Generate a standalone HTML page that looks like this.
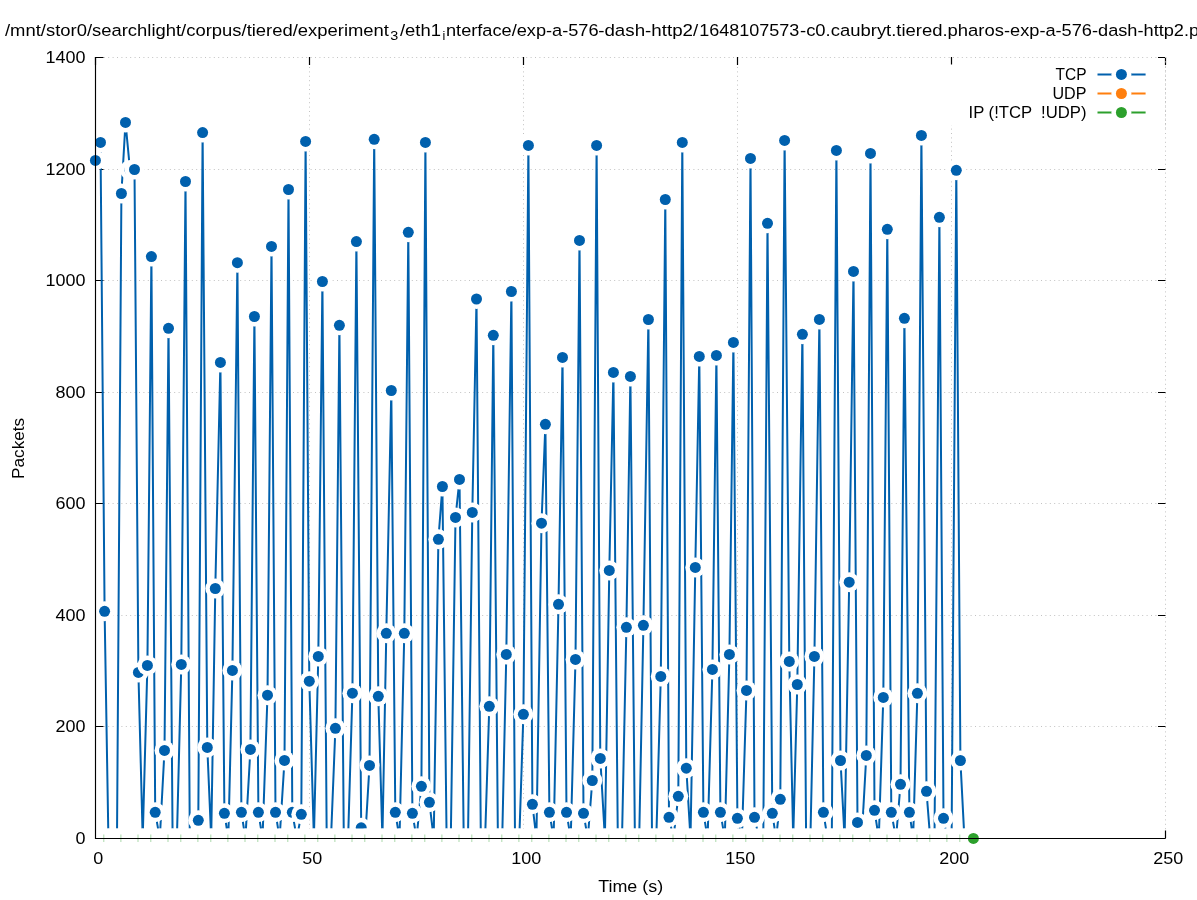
<!DOCTYPE html>
<html><head><meta charset="utf-8"><title>plot</title>
<style>html,body{margin:0;padding:0;background:#fff;overflow:hidden}svg{display:block}text{font-family:"Liberation Sans",sans-serif;fill:#000}</style></head><body>
<svg width="1197" height="900" viewBox="0 0 1197 900">
<defs><filter id="gs" x="0" y="0" width="1197" height="900" filterUnits="userSpaceOnUse" color-interpolation-filters="sRGB"><feColorMatrix type="saturate" values="0"/></filter><clipPath id="cp"><rect x="95" y="57" width="1071" height="781.5"/></clipPath></defs><rect width="1197" height="900" fill="#fff"/>
<g stroke="#c2c2c2" stroke-width="1" stroke-dasharray="1 3.4" fill="none">
<path d="M309.5 838V57"/>
<path d="M523.5 838V57"/>
<path d="M737.5 838V57"/>
<path d="M951.5 838V57"/>
<path d="M1165.5 838V57"/>
<path d="M95 57.5H1165"/>
<path d="M95 169.5H1165"/>
<path d="M95 280.5H1165"/>
<path d="M95 392.5H1165"/>
<path d="M95 503.5H1165"/>
<path d="M95 615.5H1165"/>
<path d="M95 726.5H1165"/>
</g>
<g stroke="#000" stroke-width="1.2" fill="none">
<path d="M95.5 838V830.5M95.5 57V65"/>
<path d="M309.5 838V830.5M309.5 57V65"/>
<path d="M523.5 838V830.5M523.5 57V65"/>
<path d="M737.5 838V830.5M737.5 57V65"/>
<path d="M951.5 838V830.5M951.5 57V65"/>
<path d="M1165.5 838V830.5M1165.5 57V65"/>
<path d="M95 57.5H103.5M1165.5 57.5H1158"/>
<path d="M95 169.5H103.5M1165.5 169.5H1158"/>
<path d="M95 280.5H103.5M1165.5 280.5H1158"/>
<path d="M95 392.5H103.5M1165.5 392.5H1158"/>
<path d="M95 503.5H103.5M1165.5 503.5H1158"/>
<path d="M95 615.5H103.5M1165.5 615.5H1158"/>
<path d="M95 726.5H103.5M1165.5 726.5H1158"/>
<path d="M95 838.5H103.5M1165.5 838.5H1158"/>
</g>
<path d="M95.4 160.4 L100.5 142.4 L104.6 611.3 L108.4 838.4 L112.7 838.4 L117.0 838.4 L121.4 193.5 L125.5 122.4 L130.0 169.9 L134.5 169.5 L138.4 672.4 L142.7 838.4 L147.4 665.4 L151.4 256.6 L155.2 812.3 L159.8 838.4 L164.5 750.4 L168.5 328.3 L172.6 838.4 L176.9 838.4 L181.3 664.4 L185.5 181.5 L189.8 838.4 L194.0 838.4 L198.3 820.3 L202.6 132.6 L207.3 747.4 L211.2 838.4 L215.3 588.5 L220.4 362.4 L224.4 813.3 L228.3 838.4 L232.4 670.4 L237.4 262.7 L241.4 812.3 L245.4 838.4 L250.4 749.4 L254.4 316.5 L258.4 812.3 L262.5 838.4 L267.5 695.2 L271.5 246.4 L275.5 812.3 L279.6 838.4 L284.5 760.4 L288.5 189.5 L292.3 812.3 L296.8 838.4 L301.3 814.3 L305.6 141.4 L309.3 681.2 L313.9 838.4 L318.3 656.4 L322.4 281.5 L326.7 838.4 L331.0 838.4 L335.4 728.3 L339.4 325.3 L343.8 838.4 L348.1 838.4 L352.4 693.2 L356.4 241.6 L361.2 827.8 L365.2 838.4 L369.5 765.4 L374.2 139.3 L378.3 696.3 L382.4 838.4 L386.3 633.3 L391.3 390.5 L395.3 812.3 L399.5 838.4 L404.3 633.3 L408.3 232.3 L412.4 813.3 L416.6 838.4 L421.4 786.3 L425.4 142.4 L429.4 802.3 L433.7 838.4 L438.4 539.3 L442.4 486.5 L446.6 838.4 L450.8 838.4 L455.5 517.4 L459.5 479.4 L463.7 838.4 L468.0 838.4 L472.3 512.4 L476.5 299.0 L480.8 838.4 L485.1 838.4 L489.3 706.3 L493.3 335.3 L497.9 838.4 L502.2 838.4 L506.3 654.4 L511.4 291.5 L515.0 838.4 L519.3 838.4 L523.4 714.3 L528.4 145.4 L532.4 804.3 L536.4 838.4 L541.5 523.2 L545.4 424.3 L549.4 812.3 L553.6 838.4 L558.5 604.3 L562.5 357.4 L566.5 812.3 L570.7 838.4 L575.5 659.4 L579.5 240.4 L583.5 813.3 L587.8 838.4 L592.3 780.5 L596.6 145.4 L600.3 758.4 L604.9 838.4 L609.3 570.4 L613.4 372.4 L617.8 838.4 L622.0 838.4 L626.4 627.3 L630.4 376.4 L634.9 838.4 L639.2 838.4 L643.4 625.3 L648.4 319.5 L652.0 838.4 L656.3 838.4 L660.8 676.4 L665.3 199.5 L669.0 817.3 L673.4 838.4 L678.3 796.3 L682.3 142.4 L686.3 768.2 L690.5 838.4 L695.3 567.4 L699.3 356.4 L703.4 812.3 L707.6 838.4 L712.4 669.4 L716.4 355.4 L720.4 812.3 L724.8 838.4 L729.4 654.4 L733.4 342.4 L737.4 818.3 L741.9 838.4 L746.5 690.4 L750.5 158.4 L754.5 817.3 L759.0 838.4 L763.3 838.4 L767.5 223.3 L772.3 813.3 L776.1 838.4 L780.3 799.3 L784.6 140.4 L789.3 661.4 L793.2 838.4 L797.3 684.5 L802.4 334.3 L806.1 838.4 L810.4 838.4 L814.4 656.4 L819.4 319.4 L823.4 812.3 L827.5 838.4 L831.8 838.4 L836.4 150.4 L840.5 760.5 L844.6 838.4 L849.2 582.2 L853.5 271.4 L857.5 822.4 L861.7 838.4 L866.3 755.4 L870.5 153.4 L874.5 810.3 L878.8 838.4 L883.3 697.4 L887.3 229.3 L891.3 812.3 L896.0 838.4 L900.5 784.3 L904.4 318.3 L909.4 812.3 L913.1 838.4 L917.4 693.3 L921.4 135.4 L926.5 791.3 L930.2 838.4 L934.5 838.4 L939.4 217.3 L943.5 818.3 L947.3 838.4 L951.6 838.4 L956.3 170.3 L960.4 760.5 L964.4 838.4 L968.7 838.4 L973.0 838.4" fill="none" stroke="#0060ad" stroke-width="2" stroke-linejoin="round" clip-path="url(#cp)"/>
<circle cx="95.4" cy="160.4" r="10.0" fill="#fff"/><circle cx="95.4" cy="160.4" r="5.5" fill="#0060ad"/>
<circle cx="100.5" cy="142.4" r="10.0" fill="#fff"/><circle cx="100.5" cy="142.4" r="5.5" fill="#0060ad"/>
<circle cx="104.6" cy="611.3" r="10.0" fill="#fff"/><circle cx="104.6" cy="611.3" r="5.5" fill="#0060ad"/>
<circle cx="108.4" cy="838.4" r="10.0" fill="#fff"/>
<circle cx="112.7" cy="838.4" r="10.0" fill="#fff"/>
<circle cx="117.0" cy="838.4" r="10.0" fill="#fff"/>
<circle cx="121.4" cy="193.5" r="10.0" fill="#fff"/><circle cx="121.4" cy="193.5" r="5.5" fill="#0060ad"/>
<circle cx="125.5" cy="122.4" r="10.0" fill="#fff"/><circle cx="125.5" cy="122.4" r="5.5" fill="#0060ad"/>
<circle cx="130.0" cy="169.9" r="10.0" fill="#fff"/><circle cx="130.0" cy="169.9" r="5.5" fill="#0060ad"/>
<circle cx="134.5" cy="169.5" r="10.0" fill="#fff"/><circle cx="134.5" cy="169.5" r="5.5" fill="#0060ad"/>
<circle cx="138.4" cy="672.4" r="10.0" fill="#fff"/><circle cx="138.4" cy="672.4" r="5.5" fill="#0060ad"/>
<circle cx="142.7" cy="838.4" r="10.0" fill="#fff"/>
<circle cx="147.4" cy="665.4" r="10.0" fill="#fff"/><circle cx="147.4" cy="665.4" r="5.5" fill="#0060ad"/>
<circle cx="151.4" cy="256.6" r="10.0" fill="#fff"/><circle cx="151.4" cy="256.6" r="5.5" fill="#0060ad"/>
<circle cx="155.2" cy="812.3" r="10.0" fill="#fff"/><circle cx="155.2" cy="812.3" r="5.5" fill="#0060ad"/>
<circle cx="159.8" cy="838.4" r="10.0" fill="#fff"/>
<circle cx="164.5" cy="750.4" r="10.0" fill="#fff"/><circle cx="164.5" cy="750.4" r="5.5" fill="#0060ad"/>
<circle cx="168.5" cy="328.3" r="10.0" fill="#fff"/><circle cx="168.5" cy="328.3" r="5.5" fill="#0060ad"/>
<circle cx="172.6" cy="838.4" r="10.0" fill="#fff"/>
<circle cx="176.9" cy="838.4" r="10.0" fill="#fff"/>
<circle cx="181.3" cy="664.4" r="10.0" fill="#fff"/><circle cx="181.3" cy="664.4" r="5.5" fill="#0060ad"/>
<circle cx="185.5" cy="181.5" r="10.0" fill="#fff"/><circle cx="185.5" cy="181.5" r="5.5" fill="#0060ad"/>
<circle cx="189.8" cy="838.4" r="10.0" fill="#fff"/>
<circle cx="194.0" cy="838.4" r="10.0" fill="#fff"/>
<circle cx="198.3" cy="820.3" r="10.0" fill="#fff"/><circle cx="198.3" cy="820.3" r="5.5" fill="#0060ad"/>
<circle cx="202.6" cy="132.6" r="10.0" fill="#fff"/><circle cx="202.6" cy="132.6" r="5.5" fill="#0060ad"/>
<circle cx="207.3" cy="747.4" r="10.0" fill="#fff"/><circle cx="207.3" cy="747.4" r="5.5" fill="#0060ad"/>
<circle cx="211.2" cy="838.4" r="10.0" fill="#fff"/>
<circle cx="215.3" cy="588.5" r="10.0" fill="#fff"/><circle cx="215.3" cy="588.5" r="5.5" fill="#0060ad"/>
<circle cx="220.4" cy="362.4" r="10.0" fill="#fff"/><circle cx="220.4" cy="362.4" r="5.5" fill="#0060ad"/>
<circle cx="224.4" cy="813.3" r="10.0" fill="#fff"/><circle cx="224.4" cy="813.3" r="5.5" fill="#0060ad"/>
<circle cx="228.3" cy="838.4" r="10.0" fill="#fff"/>
<circle cx="232.4" cy="670.4" r="10.0" fill="#fff"/><circle cx="232.4" cy="670.4" r="5.5" fill="#0060ad"/>
<circle cx="237.4" cy="262.7" r="10.0" fill="#fff"/><circle cx="237.4" cy="262.7" r="5.5" fill="#0060ad"/>
<circle cx="241.4" cy="812.3" r="10.0" fill="#fff"/><circle cx="241.4" cy="812.3" r="5.5" fill="#0060ad"/>
<circle cx="245.4" cy="838.4" r="10.0" fill="#fff"/>
<circle cx="250.4" cy="749.4" r="10.0" fill="#fff"/><circle cx="250.4" cy="749.4" r="5.5" fill="#0060ad"/>
<circle cx="254.4" cy="316.5" r="10.0" fill="#fff"/><circle cx="254.4" cy="316.5" r="5.5" fill="#0060ad"/>
<circle cx="258.4" cy="812.3" r="10.0" fill="#fff"/><circle cx="258.4" cy="812.3" r="5.5" fill="#0060ad"/>
<circle cx="262.5" cy="838.4" r="10.0" fill="#fff"/>
<circle cx="267.5" cy="695.2" r="10.0" fill="#fff"/><circle cx="267.5" cy="695.2" r="5.5" fill="#0060ad"/>
<circle cx="271.5" cy="246.4" r="10.0" fill="#fff"/><circle cx="271.5" cy="246.4" r="5.5" fill="#0060ad"/>
<circle cx="275.5" cy="812.3" r="10.0" fill="#fff"/><circle cx="275.5" cy="812.3" r="5.5" fill="#0060ad"/>
<circle cx="279.6" cy="838.4" r="10.0" fill="#fff"/>
<circle cx="284.5" cy="760.4" r="10.0" fill="#fff"/><circle cx="284.5" cy="760.4" r="5.5" fill="#0060ad"/>
<circle cx="288.5" cy="189.5" r="10.0" fill="#fff"/><circle cx="288.5" cy="189.5" r="5.5" fill="#0060ad"/>
<circle cx="292.3" cy="812.3" r="10.0" fill="#fff"/><circle cx="292.3" cy="812.3" r="5.5" fill="#0060ad"/>
<circle cx="296.8" cy="838.4" r="10.0" fill="#fff"/>
<circle cx="301.3" cy="814.3" r="10.0" fill="#fff"/><circle cx="301.3" cy="814.3" r="5.5" fill="#0060ad"/>
<circle cx="305.6" cy="141.4" r="10.0" fill="#fff"/><circle cx="305.6" cy="141.4" r="5.5" fill="#0060ad"/>
<circle cx="309.3" cy="681.2" r="10.0" fill="#fff"/><circle cx="309.3" cy="681.2" r="5.5" fill="#0060ad"/>
<circle cx="313.9" cy="838.4" r="10.0" fill="#fff"/>
<circle cx="318.3" cy="656.4" r="10.0" fill="#fff"/><circle cx="318.3" cy="656.4" r="5.5" fill="#0060ad"/>
<circle cx="322.4" cy="281.5" r="10.0" fill="#fff"/><circle cx="322.4" cy="281.5" r="5.5" fill="#0060ad"/>
<circle cx="326.7" cy="838.4" r="10.0" fill="#fff"/>
<circle cx="331.0" cy="838.4" r="10.0" fill="#fff"/>
<circle cx="335.4" cy="728.3" r="10.0" fill="#fff"/><circle cx="335.4" cy="728.3" r="5.5" fill="#0060ad"/>
<circle cx="339.4" cy="325.3" r="10.0" fill="#fff"/><circle cx="339.4" cy="325.3" r="5.5" fill="#0060ad"/>
<circle cx="343.8" cy="838.4" r="10.0" fill="#fff"/>
<circle cx="348.1" cy="838.4" r="10.0" fill="#fff"/>
<circle cx="352.4" cy="693.2" r="10.0" fill="#fff"/><circle cx="352.4" cy="693.2" r="5.5" fill="#0060ad"/>
<circle cx="356.4" cy="241.6" r="10.0" fill="#fff"/><circle cx="356.4" cy="241.6" r="5.5" fill="#0060ad"/>
<circle cx="361.2" cy="827.8" r="10.0" fill="#fff"/><circle cx="361.2" cy="827.8" r="5.5" fill="#0060ad"/>
<circle cx="365.2" cy="838.4" r="10.0" fill="#fff"/>
<circle cx="369.5" cy="765.4" r="10.0" fill="#fff"/><circle cx="369.5" cy="765.4" r="5.5" fill="#0060ad"/>
<circle cx="374.2" cy="139.3" r="10.0" fill="#fff"/><circle cx="374.2" cy="139.3" r="5.5" fill="#0060ad"/>
<circle cx="378.3" cy="696.3" r="10.0" fill="#fff"/><circle cx="378.3" cy="696.3" r="5.5" fill="#0060ad"/>
<circle cx="382.4" cy="838.4" r="10.0" fill="#fff"/>
<circle cx="386.3" cy="633.3" r="10.0" fill="#fff"/><circle cx="386.3" cy="633.3" r="5.5" fill="#0060ad"/>
<circle cx="391.3" cy="390.5" r="10.0" fill="#fff"/><circle cx="391.3" cy="390.5" r="5.5" fill="#0060ad"/>
<circle cx="395.3" cy="812.3" r="10.0" fill="#fff"/><circle cx="395.3" cy="812.3" r="5.5" fill="#0060ad"/>
<circle cx="399.5" cy="838.4" r="10.0" fill="#fff"/>
<circle cx="404.3" cy="633.3" r="10.0" fill="#fff"/><circle cx="404.3" cy="633.3" r="5.5" fill="#0060ad"/>
<circle cx="408.3" cy="232.3" r="10.0" fill="#fff"/><circle cx="408.3" cy="232.3" r="5.5" fill="#0060ad"/>
<circle cx="412.4" cy="813.3" r="10.0" fill="#fff"/><circle cx="412.4" cy="813.3" r="5.5" fill="#0060ad"/>
<circle cx="416.6" cy="838.4" r="10.0" fill="#fff"/>
<circle cx="421.4" cy="786.3" r="10.0" fill="#fff"/><circle cx="421.4" cy="786.3" r="5.5" fill="#0060ad"/>
<circle cx="425.4" cy="142.4" r="10.0" fill="#fff"/><circle cx="425.4" cy="142.4" r="5.5" fill="#0060ad"/>
<circle cx="429.4" cy="802.3" r="10.0" fill="#fff"/><circle cx="429.4" cy="802.3" r="5.5" fill="#0060ad"/>
<circle cx="433.7" cy="838.4" r="10.0" fill="#fff"/>
<circle cx="438.4" cy="539.3" r="10.0" fill="#fff"/><circle cx="438.4" cy="539.3" r="5.5" fill="#0060ad"/>
<circle cx="442.4" cy="486.5" r="10.0" fill="#fff"/><circle cx="442.4" cy="486.5" r="5.5" fill="#0060ad"/>
<circle cx="446.6" cy="838.4" r="10.0" fill="#fff"/>
<circle cx="450.8" cy="838.4" r="10.0" fill="#fff"/>
<circle cx="455.5" cy="517.4" r="10.0" fill="#fff"/><circle cx="455.5" cy="517.4" r="5.5" fill="#0060ad"/>
<circle cx="459.5" cy="479.4" r="10.0" fill="#fff"/><circle cx="459.5" cy="479.4" r="5.5" fill="#0060ad"/>
<circle cx="463.7" cy="838.4" r="10.0" fill="#fff"/>
<circle cx="468.0" cy="838.4" r="10.0" fill="#fff"/>
<circle cx="472.3" cy="512.4" r="10.0" fill="#fff"/><circle cx="472.3" cy="512.4" r="5.5" fill="#0060ad"/>
<circle cx="476.5" cy="299.0" r="10.0" fill="#fff"/><circle cx="476.5" cy="299.0" r="5.5" fill="#0060ad"/>
<circle cx="480.8" cy="838.4" r="10.0" fill="#fff"/>
<circle cx="485.1" cy="838.4" r="10.0" fill="#fff"/>
<circle cx="489.3" cy="706.3" r="10.0" fill="#fff"/><circle cx="489.3" cy="706.3" r="5.5" fill="#0060ad"/>
<circle cx="493.3" cy="335.3" r="10.0" fill="#fff"/><circle cx="493.3" cy="335.3" r="5.5" fill="#0060ad"/>
<circle cx="497.9" cy="838.4" r="10.0" fill="#fff"/>
<circle cx="502.2" cy="838.4" r="10.0" fill="#fff"/>
<circle cx="506.3" cy="654.4" r="10.0" fill="#fff"/><circle cx="506.3" cy="654.4" r="5.5" fill="#0060ad"/>
<circle cx="511.4" cy="291.5" r="10.0" fill="#fff"/><circle cx="511.4" cy="291.5" r="5.5" fill="#0060ad"/>
<circle cx="515.0" cy="838.4" r="10.0" fill="#fff"/>
<circle cx="519.3" cy="838.4" r="10.0" fill="#fff"/>
<circle cx="523.4" cy="714.3" r="10.0" fill="#fff"/><circle cx="523.4" cy="714.3" r="5.5" fill="#0060ad"/>
<circle cx="528.4" cy="145.4" r="10.0" fill="#fff"/><circle cx="528.4" cy="145.4" r="5.5" fill="#0060ad"/>
<circle cx="532.4" cy="804.3" r="10.0" fill="#fff"/><circle cx="532.4" cy="804.3" r="5.5" fill="#0060ad"/>
<circle cx="536.4" cy="838.4" r="10.0" fill="#fff"/>
<circle cx="541.5" cy="523.2" r="10.0" fill="#fff"/><circle cx="541.5" cy="523.2" r="5.5" fill="#0060ad"/>
<circle cx="545.4" cy="424.3" r="10.0" fill="#fff"/><circle cx="545.4" cy="424.3" r="5.5" fill="#0060ad"/>
<circle cx="549.4" cy="812.3" r="10.0" fill="#fff"/><circle cx="549.4" cy="812.3" r="5.5" fill="#0060ad"/>
<circle cx="553.6" cy="838.4" r="10.0" fill="#fff"/>
<circle cx="558.5" cy="604.3" r="10.0" fill="#fff"/><circle cx="558.5" cy="604.3" r="5.5" fill="#0060ad"/>
<circle cx="562.5" cy="357.4" r="10.0" fill="#fff"/><circle cx="562.5" cy="357.4" r="5.5" fill="#0060ad"/>
<circle cx="566.5" cy="812.3" r="10.0" fill="#fff"/><circle cx="566.5" cy="812.3" r="5.5" fill="#0060ad"/>
<circle cx="570.7" cy="838.4" r="10.0" fill="#fff"/>
<circle cx="575.5" cy="659.4" r="10.0" fill="#fff"/><circle cx="575.5" cy="659.4" r="5.5" fill="#0060ad"/>
<circle cx="579.5" cy="240.4" r="10.0" fill="#fff"/><circle cx="579.5" cy="240.4" r="5.5" fill="#0060ad"/>
<circle cx="583.5" cy="813.3" r="10.0" fill="#fff"/><circle cx="583.5" cy="813.3" r="5.5" fill="#0060ad"/>
<circle cx="587.8" cy="838.4" r="10.0" fill="#fff"/>
<circle cx="592.3" cy="780.5" r="10.0" fill="#fff"/><circle cx="592.3" cy="780.5" r="5.5" fill="#0060ad"/>
<circle cx="596.6" cy="145.4" r="10.0" fill="#fff"/><circle cx="596.6" cy="145.4" r="5.5" fill="#0060ad"/>
<circle cx="600.3" cy="758.4" r="10.0" fill="#fff"/><circle cx="600.3" cy="758.4" r="5.5" fill="#0060ad"/>
<circle cx="604.9" cy="838.4" r="10.0" fill="#fff"/>
<circle cx="609.3" cy="570.4" r="10.0" fill="#fff"/><circle cx="609.3" cy="570.4" r="5.5" fill="#0060ad"/>
<circle cx="613.4" cy="372.4" r="10.0" fill="#fff"/><circle cx="613.4" cy="372.4" r="5.5" fill="#0060ad"/>
<circle cx="617.8" cy="838.4" r="10.0" fill="#fff"/>
<circle cx="622.0" cy="838.4" r="10.0" fill="#fff"/>
<circle cx="626.4" cy="627.3" r="10.0" fill="#fff"/><circle cx="626.4" cy="627.3" r="5.5" fill="#0060ad"/>
<circle cx="630.4" cy="376.4" r="10.0" fill="#fff"/><circle cx="630.4" cy="376.4" r="5.5" fill="#0060ad"/>
<circle cx="634.9" cy="838.4" r="10.0" fill="#fff"/>
<circle cx="639.2" cy="838.4" r="10.0" fill="#fff"/>
<circle cx="643.4" cy="625.3" r="10.0" fill="#fff"/><circle cx="643.4" cy="625.3" r="5.5" fill="#0060ad"/>
<circle cx="648.4" cy="319.5" r="10.0" fill="#fff"/><circle cx="648.4" cy="319.5" r="5.5" fill="#0060ad"/>
<circle cx="652.0" cy="838.4" r="10.0" fill="#fff"/>
<circle cx="656.3" cy="838.4" r="10.0" fill="#fff"/>
<circle cx="660.8" cy="676.4" r="10.0" fill="#fff"/><circle cx="660.8" cy="676.4" r="5.5" fill="#0060ad"/>
<circle cx="665.3" cy="199.5" r="10.0" fill="#fff"/><circle cx="665.3" cy="199.5" r="5.5" fill="#0060ad"/>
<circle cx="669.0" cy="817.3" r="10.0" fill="#fff"/><circle cx="669.0" cy="817.3" r="5.5" fill="#0060ad"/>
<circle cx="673.4" cy="838.4" r="10.0" fill="#fff"/>
<circle cx="678.3" cy="796.3" r="10.0" fill="#fff"/><circle cx="678.3" cy="796.3" r="5.5" fill="#0060ad"/>
<circle cx="682.3" cy="142.4" r="10.0" fill="#fff"/><circle cx="682.3" cy="142.4" r="5.5" fill="#0060ad"/>
<circle cx="686.3" cy="768.2" r="10.0" fill="#fff"/><circle cx="686.3" cy="768.2" r="5.5" fill="#0060ad"/>
<circle cx="690.5" cy="838.4" r="10.0" fill="#fff"/>
<circle cx="695.3" cy="567.4" r="10.0" fill="#fff"/><circle cx="695.3" cy="567.4" r="5.5" fill="#0060ad"/>
<circle cx="699.3" cy="356.4" r="10.0" fill="#fff"/><circle cx="699.3" cy="356.4" r="5.5" fill="#0060ad"/>
<circle cx="703.4" cy="812.3" r="10.0" fill="#fff"/><circle cx="703.4" cy="812.3" r="5.5" fill="#0060ad"/>
<circle cx="707.6" cy="838.4" r="10.0" fill="#fff"/>
<circle cx="712.4" cy="669.4" r="10.0" fill="#fff"/><circle cx="712.4" cy="669.4" r="5.5" fill="#0060ad"/>
<circle cx="716.4" cy="355.4" r="10.0" fill="#fff"/><circle cx="716.4" cy="355.4" r="5.5" fill="#0060ad"/>
<circle cx="720.4" cy="812.3" r="10.0" fill="#fff"/><circle cx="720.4" cy="812.3" r="5.5" fill="#0060ad"/>
<circle cx="724.8" cy="838.4" r="10.0" fill="#fff"/>
<circle cx="729.4" cy="654.4" r="10.0" fill="#fff"/><circle cx="729.4" cy="654.4" r="5.5" fill="#0060ad"/>
<circle cx="733.4" cy="342.4" r="10.0" fill="#fff"/><circle cx="733.4" cy="342.4" r="5.5" fill="#0060ad"/>
<circle cx="737.4" cy="818.3" r="10.0" fill="#fff"/><circle cx="737.4" cy="818.3" r="5.5" fill="#0060ad"/>
<circle cx="741.9" cy="838.4" r="10.0" fill="#fff"/>
<circle cx="746.5" cy="690.4" r="10.0" fill="#fff"/><circle cx="746.5" cy="690.4" r="5.5" fill="#0060ad"/>
<circle cx="750.5" cy="158.4" r="10.0" fill="#fff"/><circle cx="750.5" cy="158.4" r="5.5" fill="#0060ad"/>
<circle cx="754.5" cy="817.3" r="10.0" fill="#fff"/><circle cx="754.5" cy="817.3" r="5.5" fill="#0060ad"/>
<circle cx="759.0" cy="838.4" r="10.0" fill="#fff"/>
<circle cx="763.3" cy="838.4" r="10.0" fill="#fff"/>
<circle cx="767.5" cy="223.3" r="10.0" fill="#fff"/><circle cx="767.5" cy="223.3" r="5.5" fill="#0060ad"/>
<circle cx="772.3" cy="813.3" r="10.0" fill="#fff"/><circle cx="772.3" cy="813.3" r="5.5" fill="#0060ad"/>
<circle cx="776.1" cy="838.4" r="10.0" fill="#fff"/>
<circle cx="780.3" cy="799.3" r="10.0" fill="#fff"/><circle cx="780.3" cy="799.3" r="5.5" fill="#0060ad"/>
<circle cx="784.6" cy="140.4" r="10.0" fill="#fff"/><circle cx="784.6" cy="140.4" r="5.5" fill="#0060ad"/>
<circle cx="789.3" cy="661.4" r="10.0" fill="#fff"/><circle cx="789.3" cy="661.4" r="5.5" fill="#0060ad"/>
<circle cx="793.2" cy="838.4" r="10.0" fill="#fff"/>
<circle cx="797.3" cy="684.5" r="10.0" fill="#fff"/><circle cx="797.3" cy="684.5" r="5.5" fill="#0060ad"/>
<circle cx="802.4" cy="334.3" r="10.0" fill="#fff"/><circle cx="802.4" cy="334.3" r="5.5" fill="#0060ad"/>
<circle cx="806.1" cy="838.4" r="10.0" fill="#fff"/>
<circle cx="810.4" cy="838.4" r="10.0" fill="#fff"/>
<circle cx="814.4" cy="656.4" r="10.0" fill="#fff"/><circle cx="814.4" cy="656.4" r="5.5" fill="#0060ad"/>
<circle cx="819.4" cy="319.4" r="10.0" fill="#fff"/><circle cx="819.4" cy="319.4" r="5.5" fill="#0060ad"/>
<circle cx="823.4" cy="812.3" r="10.0" fill="#fff"/><circle cx="823.4" cy="812.3" r="5.5" fill="#0060ad"/>
<circle cx="827.5" cy="838.4" r="10.0" fill="#fff"/>
<circle cx="831.8" cy="838.4" r="10.0" fill="#fff"/>
<circle cx="836.4" cy="150.4" r="10.0" fill="#fff"/><circle cx="836.4" cy="150.4" r="5.5" fill="#0060ad"/>
<circle cx="840.5" cy="760.5" r="10.0" fill="#fff"/><circle cx="840.5" cy="760.5" r="5.5" fill="#0060ad"/>
<circle cx="844.6" cy="838.4" r="10.0" fill="#fff"/>
<circle cx="849.2" cy="582.2" r="10.0" fill="#fff"/><circle cx="849.2" cy="582.2" r="5.5" fill="#0060ad"/>
<circle cx="853.5" cy="271.4" r="10.0" fill="#fff"/><circle cx="853.5" cy="271.4" r="5.5" fill="#0060ad"/>
<circle cx="857.5" cy="822.4" r="10.0" fill="#fff"/><circle cx="857.5" cy="822.4" r="5.5" fill="#0060ad"/>
<circle cx="861.7" cy="838.4" r="10.0" fill="#fff"/>
<circle cx="866.3" cy="755.4" r="10.0" fill="#fff"/><circle cx="866.3" cy="755.4" r="5.5" fill="#0060ad"/>
<circle cx="870.5" cy="153.4" r="10.0" fill="#fff"/><circle cx="870.5" cy="153.4" r="5.5" fill="#0060ad"/>
<circle cx="874.5" cy="810.3" r="10.0" fill="#fff"/><circle cx="874.5" cy="810.3" r="5.5" fill="#0060ad"/>
<circle cx="878.8" cy="838.4" r="10.0" fill="#fff"/>
<circle cx="883.3" cy="697.4" r="10.0" fill="#fff"/><circle cx="883.3" cy="697.4" r="5.5" fill="#0060ad"/>
<circle cx="887.3" cy="229.3" r="10.0" fill="#fff"/><circle cx="887.3" cy="229.3" r="5.5" fill="#0060ad"/>
<circle cx="891.3" cy="812.3" r="10.0" fill="#fff"/><circle cx="891.3" cy="812.3" r="5.5" fill="#0060ad"/>
<circle cx="896.0" cy="838.4" r="10.0" fill="#fff"/>
<circle cx="900.5" cy="784.3" r="10.0" fill="#fff"/><circle cx="900.5" cy="784.3" r="5.5" fill="#0060ad"/>
<circle cx="904.4" cy="318.3" r="10.0" fill="#fff"/><circle cx="904.4" cy="318.3" r="5.5" fill="#0060ad"/>
<circle cx="909.4" cy="812.3" r="10.0" fill="#fff"/><circle cx="909.4" cy="812.3" r="5.5" fill="#0060ad"/>
<circle cx="913.1" cy="838.4" r="10.0" fill="#fff"/>
<circle cx="917.4" cy="693.3" r="10.0" fill="#fff"/><circle cx="917.4" cy="693.3" r="5.5" fill="#0060ad"/>
<circle cx="921.4" cy="135.4" r="10.0" fill="#fff"/><circle cx="921.4" cy="135.4" r="5.5" fill="#0060ad"/>
<circle cx="926.5" cy="791.3" r="10.0" fill="#fff"/><circle cx="926.5" cy="791.3" r="5.5" fill="#0060ad"/>
<circle cx="930.2" cy="838.4" r="10.0" fill="#fff"/>
<circle cx="934.5" cy="838.4" r="10.0" fill="#fff"/>
<circle cx="939.4" cy="217.3" r="10.0" fill="#fff"/><circle cx="939.4" cy="217.3" r="5.5" fill="#0060ad"/>
<circle cx="943.5" cy="818.3" r="10.0" fill="#fff"/><circle cx="943.5" cy="818.3" r="5.5" fill="#0060ad"/>
<circle cx="947.3" cy="838.4" r="10.0" fill="#fff"/>
<circle cx="951.6" cy="838.4" r="10.0" fill="#fff"/>
<circle cx="956.3" cy="170.3" r="10.0" fill="#fff"/><circle cx="956.3" cy="170.3" r="5.5" fill="#0060ad"/>
<circle cx="960.4" cy="760.5" r="10.0" fill="#fff"/><circle cx="960.4" cy="760.5" r="5.5" fill="#0060ad"/>
<circle cx="964.4" cy="838.4" r="10.0" fill="#fff"/>
<circle cx="968.7" cy="838.4" r="10.0" fill="#fff"/>
<circle cx="973.0" cy="838.4" r="10.0" fill="#fff"/>
<rect x="85.6" y="828.4" width="897.4" height="20.0" rx="10.0" fill="#fff"/>
<path d="M103.8 834.5V842M120.9 834.5V842M138.0 834.5V842M150.8 834.5V842M168.0 834.5V842M180.8 834.5V842M197.9 834.5V842M210.8 834.5V842M227.9 834.5V842M245.0 834.5V842M257.8 834.5V842M275.0 834.5V842M287.8 834.5V842M304.9 834.5V842M317.8 834.5V842M334.9 834.5V842M352.0 834.5V842M364.8 834.5V842M382.0 834.5V842M394.8 834.5V842M411.9 834.5V842M424.8 834.5V842M441.9 834.5V842M459.0 834.5V842M471.8 834.5V842M489.0 834.5V842M501.8 834.5V842M518.9 834.5V842M531.8 834.5V842M548.9 834.5V842M566.0 834.5V842M578.8 834.5V842M596.0 834.5V842M608.8 834.5V842M625.9 834.5V842M638.8 834.5V842M655.9 834.5V842M673.0 834.5V842M685.8 834.5V842M703.0 834.5V842M715.8 834.5V842M732.9 834.5V842M745.8 834.5V842M762.9 834.5V842M780.0 834.5V842M792.8 834.5V842M810.0 834.5V842M822.8 834.5V842M839.9 834.5V842M852.8 834.5V842M869.9 834.5V842M887.0 834.5V842M899.8 834.5V842M917.0 834.5V842M929.8 834.5V842M946.9 834.5V842M959.8 834.5V842" stroke="#2ca02c" stroke-opacity="0.5" stroke-width="0.8" fill="none"/>
<circle cx="973.4" cy="838.4" r="5.5" fill="#2ca02c"/>
<rect x="945" y="64.5" width="215" height="60.5" fill="#fff"/>
<path d="M1165.5 57V130" stroke="#c2c2c2" stroke-dasharray="1 3.4" fill="none"/>
<path d="M1097.5 74.4H1145.6" stroke="#0060ad" stroke-width="2"/><circle cx="1121.4" cy="74.4" r="10.0" fill="#fff"/><circle cx="1121.4" cy="74.4" r="5.5" fill="#0060ad"/>
<path d="M1097.5 93.5H1145.6" stroke="#ff7f0e" stroke-width="2"/><circle cx="1121.4" cy="93.5" r="10.0" fill="#fff"/><circle cx="1121.4" cy="93.5" r="5.5" fill="#ff7f0e"/>
<path d="M1097.5 112.5H1145.6" stroke="#2ca02c" stroke-width="2"/><circle cx="1121.4" cy="112.5" r="10.0" fill="#fff"/><circle cx="1121.4" cy="112.5" r="5.5" fill="#2ca02c"/>
<path d="M95.5 57V838.5H1165.5" fill="none" stroke="#000" stroke-width="1.15"/>
<g filter="url(#gs)"><text x="5" y="35.7" font-size="16.3" text-anchor="start" textLength="384" lengthAdjust="spacingAndGlyphs">/mnt/stor0/searchlight/corpus/tiered/experiment</text>
<text x="390.3" y="39.5" font-size="12.5" text-anchor="start" textLength="8" lengthAdjust="spacingAndGlyphs">3</text>
<text x="400" y="35.7" font-size="16.3" text-anchor="start" textLength="41" lengthAdjust="spacingAndGlyphs">/eth1</text>
<text x="442.5" y="39.5" font-size="12.5" text-anchor="start">i</text>
<text x="446" y="35.7" font-size="16.3" text-anchor="start" textLength="152.5" lengthAdjust="spacingAndGlyphs">nterface/exp-a-576</text>
<text x="598.2" y="35.7" font-size="16.3" text-anchor="start" textLength="100" lengthAdjust="spacingAndGlyphs">-dash-http2/</text>
<text x="699.3" y="35.7" font-size="16.3" text-anchor="start" textLength="100" lengthAdjust="spacingAndGlyphs">1648107573</text>
<text x="800" y="35.7" font-size="16.3" text-anchor="start" textLength="204" lengthAdjust="spacingAndGlyphs">-c0.caubryt.tiered.pharos</text>
<text x="1004" y="35.7" font-size="16.3" text-anchor="start" textLength="180" lengthAdjust="spacingAndGlyphs">-exp-a-576-dash-http2</text>
<text x="1184" y="35.7" font-size="16.3" text-anchor="start" textLength="44" lengthAdjust="spacingAndGlyphs">.pcap</text>
<text x="85.6" y="63.2" font-size="16.3" text-anchor="end" textLength="40" lengthAdjust="spacingAndGlyphs">1400</text>
<text x="85.6" y="175.2" font-size="16.3" text-anchor="end" textLength="40" lengthAdjust="spacingAndGlyphs">1200</text>
<text x="85.6" y="286.2" font-size="16.3" text-anchor="end" textLength="40" lengthAdjust="spacingAndGlyphs">1000</text>
<text x="85.6" y="398.2" font-size="16.3" text-anchor="end" textLength="30" lengthAdjust="spacingAndGlyphs">800</text>
<text x="85.6" y="509.2" font-size="16.3" text-anchor="end" textLength="30" lengthAdjust="spacingAndGlyphs">600</text>
<text x="85.6" y="621.2" font-size="16.3" text-anchor="end" textLength="30" lengthAdjust="spacingAndGlyphs">400</text>
<text x="85.6" y="732.2" font-size="16.3" text-anchor="end" textLength="30" lengthAdjust="spacingAndGlyphs">200</text>
<text x="85.6" y="844.2" font-size="16.3" text-anchor="end" textLength="10" lengthAdjust="spacingAndGlyphs">0</text>
<text x="98.3" y="863.9" font-size="16.3" text-anchor="middle" textLength="10" lengthAdjust="spacingAndGlyphs">0</text>
<text x="312.3" y="863.9" font-size="16.3" text-anchor="middle" textLength="20" lengthAdjust="spacingAndGlyphs">50</text>
<text x="526.3" y="863.9" font-size="16.3" text-anchor="middle" textLength="30" lengthAdjust="spacingAndGlyphs">100</text>
<text x="740.3" y="863.9" font-size="16.3" text-anchor="middle" textLength="30" lengthAdjust="spacingAndGlyphs">150</text>
<text x="954.3" y="863.9" font-size="16.3" text-anchor="middle" textLength="30" lengthAdjust="spacingAndGlyphs">200</text>
<text x="1168.3" y="863.9" font-size="16.3" text-anchor="middle" textLength="30" lengthAdjust="spacingAndGlyphs">250</text>
<text x="630.7" y="891.5" font-size="16.3" text-anchor="middle" textLength="65" lengthAdjust="spacingAndGlyphs">Time (s)</text>
<text transform="translate(24.4,448.4) rotate(-90)" font-size="16.3" text-anchor="middle" textLength="61" lengthAdjust="spacingAndGlyphs">Packets</text>
<text x="1086.5" y="80.2" font-size="16.3" text-anchor="end" textLength="31" lengthAdjust="spacingAndGlyphs">TCP</text>
<text x="1086.5" y="99.2" font-size="16.3" text-anchor="end" textLength="34" lengthAdjust="spacingAndGlyphs">UDP</text>
<text x="1086.5" y="118.3" font-size="16.3" text-anchor="end" textLength="118" lengthAdjust="spacingAndGlyphs">IP (!TCP &#160;!UDP)</text></g>
</svg></body></html>
